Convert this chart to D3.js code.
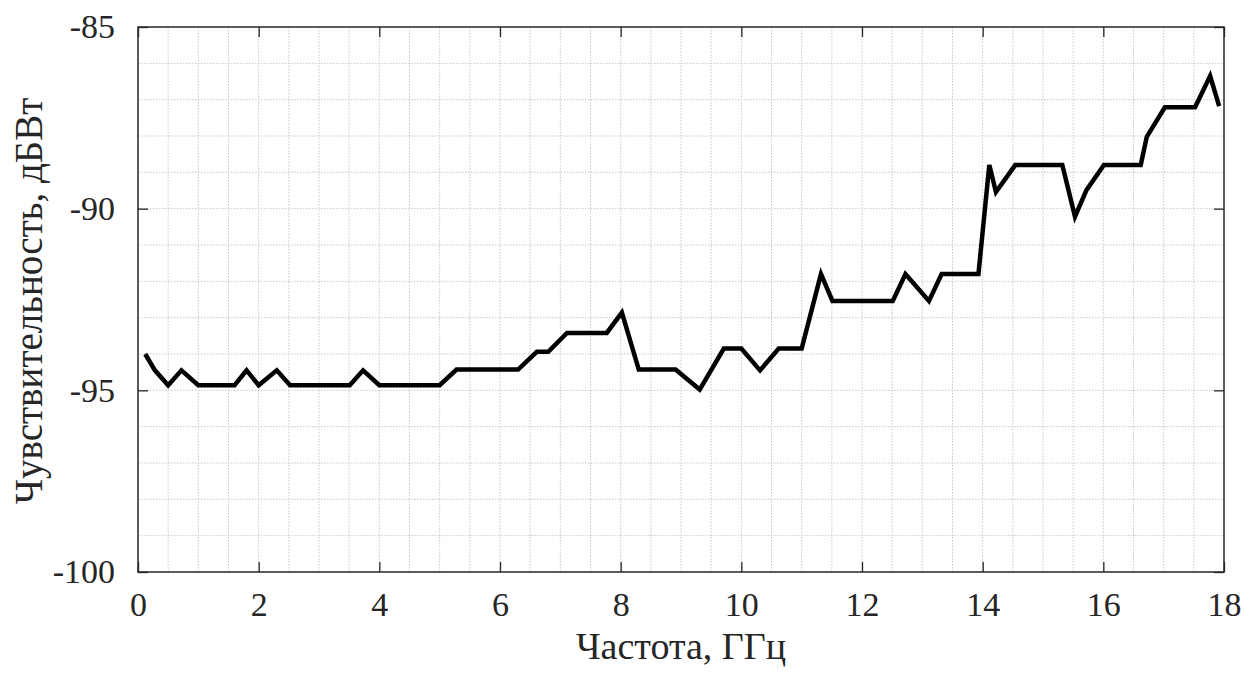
<!DOCTYPE html>
<meta charset="utf-8">
<title>Чувствительность</title>
<style>
body { margin: 0; background: #fff; }
.grid line { stroke: #c8c8c8; stroke-width: 1px; stroke-dasharray: 1.5 1.5; }
</style>
<script src="https://d3js.org/d3.v7.min.js"></script>
<body>
<script>
var width = 1246;
var height = 673;

// frequency, GHz
var freq = [0.12, 0.28, 0.5, 0.72, 1.0, 1.6, 1.8, 2.0, 2.3, 2.52, 3.51, 3.73, 4.0, 5.0,
  5.28, 6.3, 6.61, 6.8, 7.11, 7.77, 8.02, 8.3, 8.91, 9.31, 9.71, 10.0, 10.31, 10.62,
  11.0, 11.32, 11.51, 12.51, 12.72, 13.11, 13.32, 13.93, 14.11, 14.22, 14.54, 15.32,
  15.53, 15.72, 16.01, 16.62, 16.72, 17.02, 17.52, 17.77, 17.92];
// sensitivity, dBW
var sens = [-94.0, -94.45, -94.86, -94.45, -94.86, -94.86, -94.45, -94.86, -94.45, -94.86,
  -94.86, -94.45, -94.86, -94.86, -94.43, -94.43, -93.94, -93.94, -93.42, -93.42, -92.86,
  -94.43, -94.43, -94.98, -93.85, -93.85, -94.45, -93.85, -93.85, -91.8, -92.54, -92.54,
  -91.8, -92.54, -91.8, -91.8, -88.8, -89.54, -88.8, -88.8, -90.22, -89.49, -88.8, -88.8,
  -88.02, -87.21, -87.21, -86.35, -87.18];

var xTicks = [0, 2, 4, 6, 8, 10, 12, 14, 16, 18];
var yTicks = [-100, -95, -90, -85];

var serif = "'Liberation Serif', 'Times New Roman', serif";
var margin = {left: 138, top: 27, right: 22, bottom: 101};
var w = width - margin.left - margin.right;
var h = height - margin.top - margin.bottom;

var svg = d3.select("body").append("svg")
    .attr("width", width)
    .attr("height", height);

var x = d3.scaleLinear().domain([0, 18]).range([0, w]);
var y = d3.scaleLinear().domain([-100, -85]).range([h, 0]);

var g = svg.append("g")
    .attr("transform", "translate(" + margin.left + "," + margin.top + ")");

// dotted grid, every 0.5 GHz and every 1 dB
g.append("g").attr("class", "grid")
  .selectAll("line")
  .data(d3.range(1, 36))
  .enter().append("line")
    .attr("x1", function(d) { return x(d / 2); })
    .attr("x2", function(d) { return x(d / 2); })
    .attr("y1", 0).attr("y2", h);
g.append("g").attr("class", "grid")
  .selectAll("line")
  .data(d3.range(-99, -85))
  .enter().append("line")
    .attr("y1", function(d) { return y(d); })
    .attr("y2", function(d) { return y(d); })
    .attr("x1", 0).attr("x2", w);

// axes with inward ticks on all four sides
function styleAxis(sel) {
  sel.attr("font-family", serif).attr("font-size", 34);
  sel.select(".domain").remove();
  sel.selectAll(".tick line").attr("stroke", "#262626").attr("stroke-width", 1.3);
  sel.selectAll(".tick text").attr("fill", "#262626");
}
var fmt = function(d) { return String(d); };
g.append("g")
    .attr("transform", "translate(0," + h + ")")
    .call(d3.axisBottom(x).tickValues(xTicks).tickSize(-10).tickPadding(20).tickFormat(fmt))
    .call(styleAxis);
g.append("g")
    .call(d3.axisTop(x).tickValues(xTicks).tickSize(-10).tickFormat(""))
    .call(styleAxis);
g.append("g")
    .call(d3.axisLeft(y).tickValues(yTicks).tickSize(-10).tickPadding(23).tickFormat(fmt))
    .call(styleAxis);
g.append("g")
    .attr("transform", "translate(" + w + ",0)")
    .call(d3.axisRight(y).tickValues(yTicks).tickSize(-10).tickFormat(""))
    .call(styleAxis);

g.append("rect")
    .attr("width", w).attr("height", h)
    .attr("fill", "none")
    .attr("stroke", "#262626")
    .attr("stroke-width", 1.5);

// data line
var pts = freq.map(function(f, i) { return [f, sens[i]]; });
var line = d3.line()
    .x(function(d) { return x(d[0]); })
    .y(function(d) { return y(d[1]); });
g.append("path")
    .datum(pts)
    .attr("fill", "none")
    .attr("stroke", "#000")
    .attr("stroke-width", 4.5)
    .attr("stroke-linejoin", "miter")
    .attr("d", line);

// labels
svg.append("text")
    .attr("x", 681)
    .attr("y", 659)
    .attr("text-anchor", "middle")
    .attr("fill", "#262626")
    .attr("font-family", serif)
    .attr("font-size", 38)
    .text("Частота, ГГц");
svg.append("text")
    .attr("transform", "translate(42,301) rotate(-90)")
    .attr("text-anchor", "middle")
    .attr("fill", "#262626")
    .attr("font-family", serif)
    .attr("font-size", 39)
    .text("Чувствительность, дБВт");
</script>
</body>
